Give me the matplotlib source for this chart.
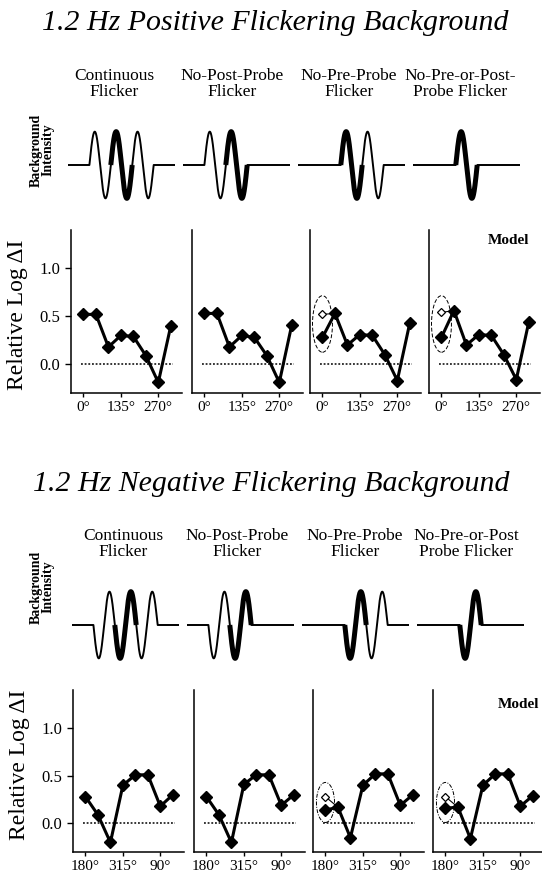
#!/usr/bin/python3

import numpy as np
import matplotlib
matplotlib.use("Agg")
import matplotlib.pyplot as plt
from matplotlib.patches import Ellipse

plt.rcParams['font.family'] = ['Liberation Serif', 'DejaVu Serif']

# phase positions, 45 deg apart, ticks every third one
phase_idx = np.arange(8)
tick_idx = [0, 3, 6]
pos_ticklabels = ["0\u00b0", "135\u00b0", "270\u00b0"]
neg_ticklabels = ["180\u00b0", "315\u00b0", "90\u00b0"]

conditions = ["Continuous\nFlicker", "No-Post-Probe\nFlicker",
              "No-Pre-Probe\nFlicker", "No-Pre-or-Post-\nProbe Flicker"]
conditions_neg = ["Continuous\nFlicker", "No-Post-Probe\nFlicker",
                  "No-Pre-Probe\nFlicker", "No-Pre-or-Post\nProbe Flicker"]
# flicker present before / after the probe cycle
has_pre = [True, True, False, False]
has_post = [True, False, True, False]

# relative log threshold, positive flicker
pos_cont = [0.52, 0.52, 0.18, 0.30, 0.29, 0.09, -0.19, 0.40]
pos_nopost = [0.53, 0.53, 0.18, 0.30, 0.28, 0.09, -0.19, 0.41]
pos_nopre = [0.28, 0.53, 0.20, 0.31, 0.30, 0.10, -0.17, 0.43]
pos_none = [0.28, 0.56, 0.20, 0.31, 0.30, 0.10, -0.16, 0.44]
pos_open = [None, None, 0.52, 0.54]

# relative log threshold, negative flicker
neg_cont = [0.28, 0.09, -0.20, 0.40, 0.51, 0.51, 0.18, 0.30]
neg_nopost = [0.28, 0.09, -0.20, 0.41, 0.51, 0.51, 0.19, 0.30]
neg_nopre = [0.14, 0.17, -0.15, 0.40, 0.52, 0.52, 0.19, 0.30]
neg_none = [0.16, 0.17, -0.16, 0.40, 0.52, 0.52, 0.18, 0.29]
neg_open = [None, None, 0.28, 0.28]

W, H = 542, 877
fig = plt.figure(figsize=(W / 100, H / 100), dpi=100)


def box(x0, y0, x1, y1):
    return [x0 / W, 1 - y1 / H, (x1 - x0) / W, (y1 - y0) / H]


def ftext(x, y, s, **kw):
    return fig.text(x / W, 1 - y / H, s, **kw)


def draw_wave(ax, sign, pre, post):
    t = np.linspace(0, 5, 2001)
    active = {2}
    if pre:
        active.add(1)
    if post:
        active.add(3)
    on = np.isin(np.floor(np.clip(t, 0, 4.9999)), list(active))
    y = np.where(on, sign * np.sin(2 * np.pi * t), 0.0)
    ax.plot(t, y, color="black", lw=1.4, solid_capstyle="butt")
    m = (t >= 2) & (t <= 3)
    ax.plot(t[m], y[m], color="black", lw=3.6, solid_capstyle="butt")
    ax.set_xlim(0, 5)
    ax.set_ylim(-1.2, 1.2)
    ax.axis("off")


def draw_panel(ax, vals, open_val, first, ticklabels, ell):
    ax.hlines(0, -0.2, 7.2, colors="black", linestyles=(0, (1.2, 1.2)), lw=1.1)
    ax.plot(phase_idx, vals, color="black", lw=2.2, marker="D", ms=6.5)
    if open_val is not None:
        ax.plot([0, 1], [open_val, vals[1]], color="black", lw=0.8)
        ax.plot([0], [open_val], marker="D", ms=4.5, mfc="white", mec="black", mew=0.9)
        ax.add_patch(Ellipse(ell[0], ell[1], ell[2], fill=False, ec="black",
                             lw=0.7, ls=ell[3]))
    ax.set_xlim(-1.0, 7.9)
    ax.set_ylim(-0.30, 1.40)
    for s in ["top", "right"]:
        ax.spines[s].set_visible(False)
    for s in ["left", "bottom"]:
        ax.spines[s].set_linewidth(1.1)
    ax.set_xticks(tick_idx)
    ax.set_xticklabels(ticklabels, fontsize=11)
    ax.tick_params(axis="x", length=3, width=1, pad=3)
    if first:
        ax.set_yticks([0.0, 0.5, 1.0])
        ax.set_yticklabels(["0.0", "0.5", "1.0"], fontsize=12)
        ax.tick_params(axis="y", length=4, width=1, pad=4)
    else:
        ax.set_yticks([])


sections = [
    dict(title="1.2 Hz Positive Flickering Background", title_xy=(275, 23),
         labels=conditions, label_x=[114, 232, 349, 460], label_y=84,
         bi_xy=(42, 150), sign=1, wave_left=[68, 183, 298, 413], base=165,
         data=[pos_cont, pos_nopost, pos_nopre, pos_none], opens=pos_open,
         ell=((0, 0.42), 1.6, 0.59, (0, (4, 2))),
         left=[71, 192, 310, 429], top=230, bottom=393,
         ticks=pos_ticklabels, ylab_xy=(18, 315), model_xy=(509, 240)),
    dict(title="1.2 Hz Negative Flickering Background", title_xy=(271, 484),
         labels=conditions_neg, label_x=[123, 237, 355, 466], label_y=544,
         bi_xy=(42, 587), sign=-1, wave_left=[72, 187, 302, 417], base=625,
         data=[neg_cont, neg_nopost, neg_nopre, neg_none], opens=neg_open,
         ell=((0, 0.22), 1.45, 0.42, (0, (4, 1.5, 1, 1.5))),
         left=[73, 194, 313, 433], top=690, bottom=852,
         ticks=neg_ticklabels, ylab_xy=(20, 765), model_xy=(519, 705)),
]

for sec in sections:
    ftext(*sec["title_xy"], sec["title"], fontsize=21.5, style="italic",
          ha="center", va="center")
    for lab, lx in zip(sec["labels"], sec["label_x"]):
        ftext(lx, sec["label_y"], lab, fontsize=12.5, ha="center", va="center",
              linespacing=0.95)
    ftext(*sec["bi_xy"], "Background\nIntensity", fontsize=10, fontweight="bold",
          rotation=90, ha="center", va="center", linespacing=0.85)
    for i in range(4):
        wl = sec["wave_left"][i]
        wax = fig.add_axes(box(wl, sec["base"] - 40, wl + 107, sec["base"] + 40))
        draw_wave(wax, sec["sign"], has_pre[i], has_post[i])
    for i in range(4):
        l = sec["left"][i]
        ax = fig.add_axes(box(l, sec["top"], l + 111, sec["bottom"]))
        draw_panel(ax, sec["data"][i], sec["opens"][i], i == 0, sec["ticks"], sec["ell"])
    ftext(*sec["ylab_xy"], "Relative Log \u0394I", fontsize=17, rotation=90,
          ha="center", va="center")
    ftext(*sec["model_xy"], "Model", fontsize=11, fontweight="bold",
          ha="center", va="center")

fig.savefig("out.png", dpi=100)
